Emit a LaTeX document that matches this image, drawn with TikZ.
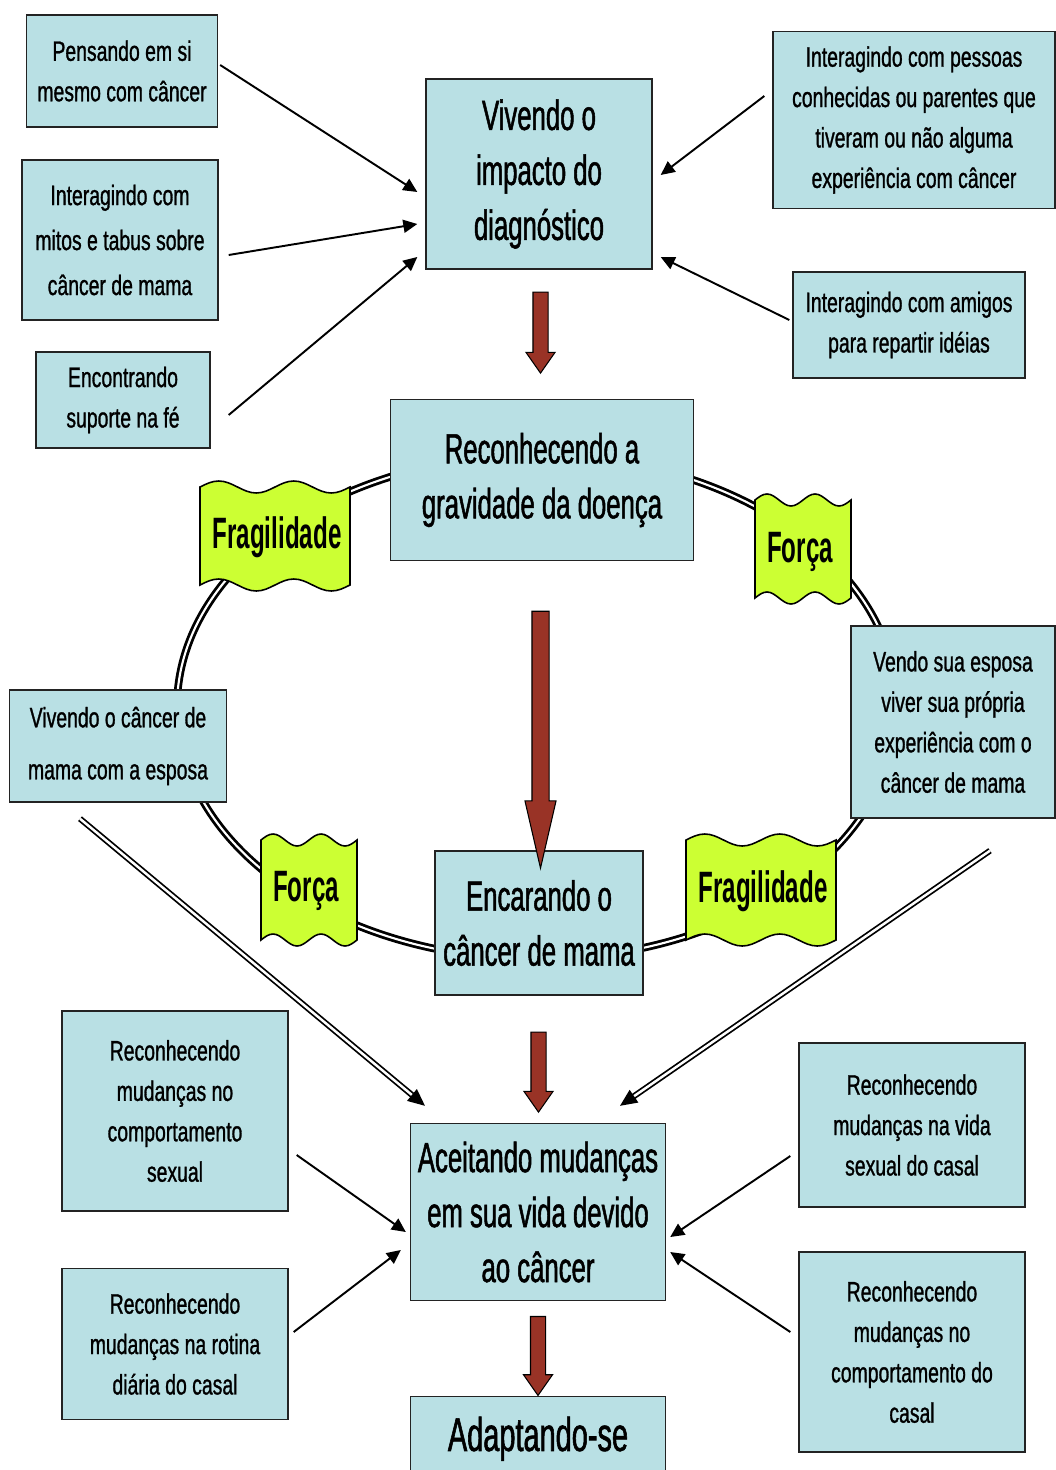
\documentclass[tikz,border=0pt]{standalone}
\usepackage{fontspec}
\setmainfont[FakeStretch=0.69,FakeBold=1]{Liberation Sans}
\newfontfamily\bigfont[FakeStretch=0.61,FakeBold=1.2]{Liberation Sans}
\newfontfamily\flagfont[FakeStretch=0.55]{Liberation Sans}
\usetikzlibrary{arrows.meta,calc,shapes.arrows}
\definecolor{paleblue}{RGB}{185,224,228}
\definecolor{lime}{RGB}{204,255,51}
\definecolor{rust}{RGB}{153,51,38}
\definecolor{ink}{RGB}{35,35,35}
\tikzset{
  >={Triangle[length=2.8mm,width=2.6mm]},
  box/.style={draw=ink,fill=paleblue,line width=0.8pt,align=center,inner sep=0pt,
    font=\fontsize{16}{23}\selectfont},
  big box/.style={box,font=\bigfont\fontsize{24}{31.3}\selectfont},
  tag/.style={font=\flagfont\bfseries\fontsize{25}{30}\selectfont},
  link/.style={->,line width=1.1pt},
  twin/.style={-{Triangle[length=3.4mm,width=3mm]},double=white,double distance=1.4pt,line width=1pt},
  red arrow/.style={single arrow,draw=black,fill=rust,line width=0.6pt,shape border rotate=270,
    inner sep=1.4mm,single arrow head extend=1.4mm,single arrow tip angle=70},
  % wavy banner
  pics/wave/.style 2 args={code={
    \filldraw[fill=lime,draw=black,line width=0.9pt] (-#1/2,-#2/2)
      sin ++(#1/8,-6) cos ++(#1/8,6) sin ++(#1/8,6) cos ++(#1/8,-6)
      sin ++(#1/8,-6) cos ++(#1/8,6) sin ++(#1/8,6) cos ++(#1/8,-6) -- (#1/2,#2/2)
      sin ++(-#1/8,6) cos ++(-#1/8,-6) sin ++(-#1/8,-6) cos ++(-#1/8,6)
      sin ++(-#1/8,6) cos ++(-#1/8,-6) sin ++(-#1/8,-6) cos ++(-#1/8,6) -- cycle;
  }},
}
\begin{document}
\begin{tikzpicture}[x=0.02cm,y=-0.02cm]
  \useasboundingbox (0,0) rectangle (1055,1470);
  % the ring
  \draw[double=white,double distance=1.2pt,line width=1.6pt] (537,707) ellipse (360 and 252);

  % banners on the ring
  \pic at (275,536) {wave={150}{98}};
  \node[tag] (f1) at (277,537) {Fragilidade};
  \pic at (803,549) {wave={96}{98}};
  \node[tag] (f2) at (800,552) {Força};
  \pic at (309,890) {wave={96}{100}};
  \node[tag] (f3) at (306,891) {Força};
  \pic at (761,890) {wave={150}{100}};
  \node[tag] (f4) at (763,891) {Fragilidade};

  % main steps
  \node[big box,minimum width=45.2mm,minimum height=38mm] (vi) at (539,174) {Vivendo o\\impacto do\\diagnóstico};
  \node[big box,minimum width=60.6mm,minimum height=32.2mm] (rg) at (542,480) {Reconhecendo a\\gravidade da doença};
  \node[big box,minimum width=41.6mm,minimum height=28.8mm] (en) at (539,923) {Encarando o\\câncer de mama};
  \node[big box,minimum width=51mm,minimum height=35.4mm] (ac) at (538,1212) {Aceitando mudanças\\em sua vida devido\\ao câncer};
  \node[big box,anchor=north,minimum width=51mm,minimum height=16.8mm,font=\bigfont\fontsize{27}{30}\selectfont] (ad) at (538,1396) {Adaptando-se};

  % side boxes
  \node[box,minimum width=38.2mm,minimum height=22.4mm] (b1) at (122,71) {Pensando em si\\mesmo com câncer};
  \node[box,minimum width=39.2mm,minimum height=32mm,font=\fontsize{16}{25.6}\selectfont] (b2) at (120,240) {Interagindo com\\mitos e tabus sobre\\câncer de mama};
  \node[box,minimum width=34.8mm,minimum height=19.2mm] (b3) at (123,400) {Encontrando\\suporte na fé};
  \node[box,minimum width=56.4mm,minimum height=35.4mm] (b5) at (914,120) {Interagindo com pessoas\\conhecidas ou parentes que\\tiveram ou não alguma\\experiência com câncer};
  \node[box,minimum width=46.4mm,minimum height=21.2mm] (b6) at (909,325) {Interagindo com amigos\\para repartir idéias};
  \node[box,minimum width=43.4mm,minimum height=22.4mm,font=\fontsize{16}{29.6}\selectfont] (vc) at (118,746) {Vivendo o câncer de\\mama com a esposa};
  \node[box,minimum width=40.8mm,minimum height=38.4mm] (ve) at (953,722) {Vendo sua esposa\\viver sua própria\\experiência com o\\câncer de mama};
  \node[box,minimum width=45.2mm,minimum height=40mm] (b11) at (175,1111) {Reconhecendo\\mudanças no\\comportamento\\sexual};
  \node[box,minimum width=45.2mm,minimum height=32.8mm] (b12) at (912,1125) {Reconhecendo\\mudanças na vida\\sexual do casal};
  \node[box,minimum width=45.2mm,minimum height=30.2mm] (b14) at (175,1344) {Reconhecendo\\mudanças na rotina\\diária do casal};
  \node[box,minimum width=45.2mm,minimum height=40mm] (b15) at (912,1352) {Reconhecendo\\mudanças no\\comportamento do\\casal};

  % thin arrows into the steps
  \foreach \s/\sx/\sy/\t/\tx/\ty in {b1.east/2/-6/vi.west/-8/18,b2.east/10/15/vi.west/-8/50,
      b3.east/18/15/vi.west/-8/83,b5.west/-8/-24/vi.east/8/1,b6.west/-3/-5/vi.east/8/83,
      b11.east/8/44/ac.west/-4/20,b14.east/5/-12/ac.west/-9/38,
      b12.west/-8/31/ac.east/4/25,b15.west/-8/-20/ac.east/4/40}
    \draw[link] ($(\s)+(\sx,\sy)$) -- ($(\t)+(\tx,\ty)$);
  \draw[twin] ($(vc.south)+(-38,16)$) -- ($(ac.north)+(-113,-17)$);
  \draw[twin] ($(ve.south)+(37,32)$) -- ($(ac.north)+(82,-17)$);

  % block arrows between steps
  \node[red arrow,minimum height=16.2mm,yshift=1.4mm] (r1) at ($(vi.south)!0.5!(rg.north)$) {};
  \node[red arrow,minimum height=51.4mm,yshift=-3.1mm,inner sep=1.6mm,single arrow tip angle=26] (r2) at ($(rg.south)!0.5!(en.north)$) {};
  \node[red arrow,minimum height=16mm,yshift=-1.5mm] (r3) at ($(en.south)!0.5!(ac.north)$) {};
  \node[red arrow,minimum height=15.8mm,yshift=-0.4mm] (r4) at ($(ac.south)!0.5!(ad.north)$) {};
\end{tikzpicture}
\end{document}
